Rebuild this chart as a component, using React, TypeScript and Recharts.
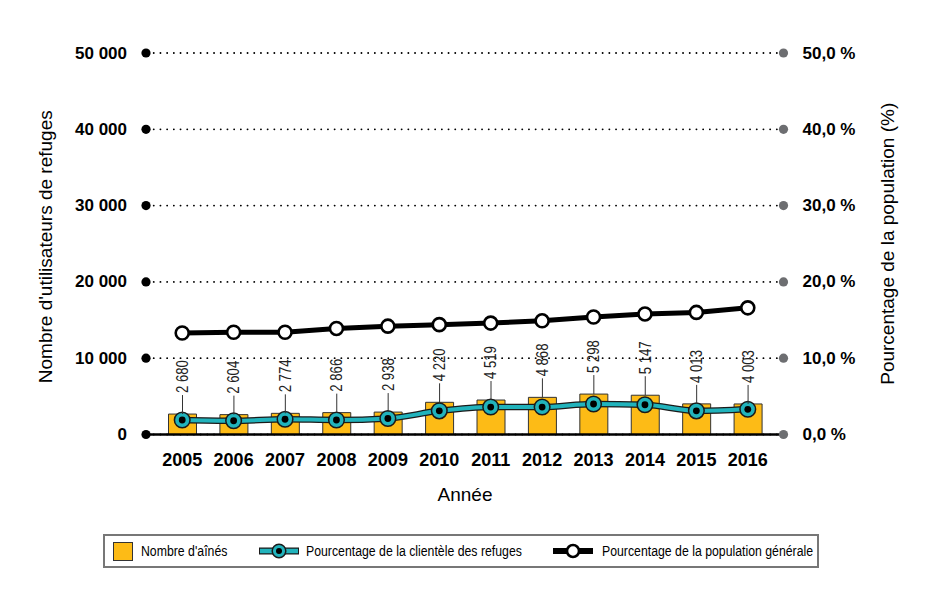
import React from 'react';
import {
  ComposedChart, Bar, Line, XAxis, YAxis, CartesianGrid, Legend, LabelList,
} from 'recharts';

const years = ['2005', '2006', '2007', '2008', '2009', '2010', '2011', '2012', '2013', '2014', '2015', '2016'];
const seniors = [2680, 2604, 2774, 2866, 2938, 4220, 4519, 4868, 5298, 5147, 4013, 4003];
const shelterPct = [1.9, 1.8, 2.0, 1.9, 2.1, 3.1, 3.6, 3.6, 4.0, 3.9, 3.1, 3.3];
const populationPct = [13.3, 13.4, 13.4, 13.9, 14.2, 14.4, 14.6, 14.9, 15.4, 15.8, 16.0, 16.6];
const leftTicks = [0, 10000, 20000, 30000, 40000, 50000];
const rightTicks = [0, 10, 20, 30, 40, 50];

const legendLabels = ["Nombre d'aînés", 'Pourcentage de la clientèle des refuges', 'Pourcentage de la population générale'];
const xTitle = 'Année';
const leftTitle = "Nombre d'utilisateurs de refuges";
const rightTitle = 'Pourcentage de la population (%)';

const data = years.map((y, i) => ({
  year: y,
  seniors: seniors[i],
  shelter: shelterPct[i],
  population: populationPct[i],
}));

const WIDE = "'Liberation Sans', Arial, sans-serif";
const NARROW_SCALE = 0.82;
const YELLOW = '#FDBB16';
const TEAL = '#21B3BC';
const DARK = '#1a1a1a';
const GREY_DOT = '#6d6e71';

const fmtThousands = (v: number) => String(v).replace(/\B(?=(\d{3})+(?!\d))/g, ' ');

const LeftTick = (props: any) => {
  const { x, y, payload } = props;
  return (
    <g>
      <text x={x} y={y} textAnchor="end" dominantBaseline="central" fontFamily={WIDE} fontWeight="bold" fontSize={17} fill="#000">
        {fmtThousands(payload.value)}
      </text>
      <circle cx={x + 19} cy={y} r={4.6} fill="#000" />
    </g>
  );
};

const RightTick = (props: any) => {
  const { x, y, payload } = props;
  return (
    <g>
      <circle cx={x - 19} cy={y} r={4.6} fill={GREY_DOT} />
      <text x={x} y={y} textAnchor="start" dominantBaseline="central" fontFamily={WIDE} fontWeight="bold" fontSize={17} fill="#000">
        {`${payload.value},0 %`}
      </text>
    </g>
  );
};

const BottomTick = (props: any) => {
  const { x, y, payload } = props;
  return (
    <text x={x} y={y} dy="0.71em" textAnchor="middle" fontFamily={WIDE} fontWeight="bold" fontSize={18} fill="#000">
      {payload.value}
    </text>
  );
};

const XTitle = (props: any) => {
  const vb = props.viewBox || {};
  return (
    <text x={vb.x + vb.width / 2} y={vb.y + 66} textAnchor="middle" fontFamily={WIDE} fontSize={19} fill="#000">
      {xTitle}
    </text>
  );
};

const LeftTitle = (props: any) => {
  const vb = props.viewBox || {};
  const cx = vb.x + 45;
  const cy = vb.y + vb.height / 2 + 3;
  return (
    <text x={cx} y={cy} transform={`rotate(-90, ${cx}, ${cy})`} textAnchor="middle" dominantBaseline="central" fontFamily={WIDE} fontSize={19} fill="#000">
      {leftTitle}
    </text>
  );
};

const RightTitle = (props: any) => {
  const vb = props.viewBox || {};
  const cx = vb.x + 104;
  const cy = vb.y + vb.height / 2;
  return (
    <text x={cx} y={cy} transform={`rotate(-90, ${cx}, ${cy})`} textAnchor="middle" dominantBaseline="central" fontFamily={WIDE} fontSize={19} fill="#000">
      {rightTitle}
    </text>
  );
};

const BarValueLabel = (props: any) => {
  const { x, y, width, value } = props;
  const cx = x + width / 2;
  const lineTop = y - 19;
  return (
    <g>
      <line x1={cx} y1={y} x2={cx} y2={lineTop} stroke="#333" strokeWidth={1} />
      <g transform={`translate(${cx}, ${lineTop - 2}) rotate(-90) scale(${NARROW_SCALE}, 1)`}>
        <text x={0} y={0} textAnchor="start" dominantBaseline="central" fontFamily={WIDE} fontSize={16} fill="#222">
          {fmtThousands(value)}
        </text>
      </g>
    </g>
  );
};

const TealDot = (props: any) => {
  const { cx, cy, index } = props;
  return (
    <g key={`td-${index}`}>
      <circle cx={cx} cy={cy} r={7.8} fill={TEAL} stroke={DARK} strokeWidth={1.5} />
      <circle cx={cx} cy={cy} r={3.4} fill="#000" />
    </g>
  );
};

const WhiteDot = (props: any) => {
  const { cx, cy, index } = props;
  return <circle key={`wd-${index}`} cx={cx} cy={cy} r={6.5} fill="#fff" stroke="#000" strokeWidth={2.6} />;
};

const LegendText = ({ x, children }: any) => (
  <g transform={`translate(${x}, 17) scale(${NARROW_SCALE}, 1)`}>
    <text x={0} y={0} dominantBaseline="central" fontFamily={WIDE} fontSize={15} fill="#000">
      {children}
    </text>
  </g>
);

const LegendContent = () => (
  <svg width={716} height={34} style={{ display: 'block' }}>
    <rect x={1} y={1} width={714} height={32} fill="#fff" stroke="#777" strokeWidth={2} />
    <rect x={10.5} y={8.5} width={19} height={18} fill={YELLOW} stroke="#333" strokeWidth={1} />
    <LegendText x={38}>{legendLabels[0]}</LegendText>
    <g transform="translate(156, 17)">
      <line x1={0} y1={0} x2={40} y2={0} stroke={DARK} strokeWidth={7} />
      <line x1={1} y1={0} x2={39} y2={0} stroke={TEAL} strokeWidth={4.5} />
      <circle cx={20} cy={0} r={6.8} fill={TEAL} stroke={DARK} strokeWidth={1.5} />
      <circle cx={20} cy={0} r={3} fill="#000" />
    </g>
    <LegendText x={203}>{legendLabels[1]}</LegendText>
    <g transform="translate(450, 17)">
      <line x1={0} y1={0} x2={40} y2={0} stroke="#000" strokeWidth={6} />
      <circle cx={20} cy={0} r={6} fill="#fff" stroke="#000" strokeWidth={2.6} />
    </g>
    <LegendText x={499}>{legendLabels[2]}</LegendText>
  </svg>
);

export default function App() {
  return (
    <div style={{ position: 'absolute', left: 0, top: 0, width: 945, height: 610, background: '#fff' }}>
      <ComposedChart width={945} height={610} data={data} margin={{ top: 53, right: 0, bottom: 105.5, left: 0 }}>
        <CartesianGrid
          yAxisId="left"
          vertical={false}
          stroke="#000"
          strokeWidth={1.8}
          strokeDasharray="0.1 6.6"
          strokeLinecap="round"
        />
        <XAxis
          dataKey="year"
          interval={0}
          padding={{ left: 9.5, right: 9.5 }}
          tickLine={false}
          axisLine={{ stroke: '#000', strokeWidth: 2.6 }}
          tickSize={6}
          tickMargin={12.5}
          height={70}
          tick={<BottomTick />}
          label={<XTitle />}
        />
        <YAxis
          yAxisId="left"
          orientation="left"
          width={147}
          domain={[0, 50000]}
          ticks={leftTicks}
          interval={0}
          tickLine={false}
          axisLine={false}
          tickSize={6}
          tickMargin={14}
          tick={<LeftTick />}
          label={<LeftTitle />}
        />
        <YAxis
          yAxisId="right"
          orientation="right"
          width={162}
          domain={[0, 50]}
          ticks={rightTicks}
          interval={0}
          tickLine={false}
          axisLine={false}
          tickSize={6}
          tickMargin={13.5}
          tick={<RightTick />}
          label={<RightTitle />}
        />
        <Bar yAxisId="left" dataKey="seniors" barSize={28} fill={YELLOW} stroke="#333" strokeWidth={1} isAnimationActive={false}>
          <LabelList dataKey="seniors" content={<BarValueLabel />} />
        </Bar>
        <Line yAxisId="right" dataKey="population" stroke="#000" strokeWidth={5} dot={<WhiteDot />} activeDot={false} isAnimationActive={false} />
        <Line yAxisId="right" type="monotone" dataKey="shelter" stroke={DARK} strokeWidth={6.5} dot={false} activeDot={false} isAnimationActive={false} />
        <Line yAxisId="right" type="monotone" dataKey="shelter" stroke={TEAL} strokeWidth={4} dot={<TealDot />} activeDot={false} isAnimationActive={false} />
        <Legend
          layout="horizontal"
          verticalAlign="middle"
          align="center"
          content={<LegendContent />}
          wrapperStyle={{ left: 103, top: 534, width: 716, height: 34 }}
        />
      </ComposedChart>
    </div>
  );
}
